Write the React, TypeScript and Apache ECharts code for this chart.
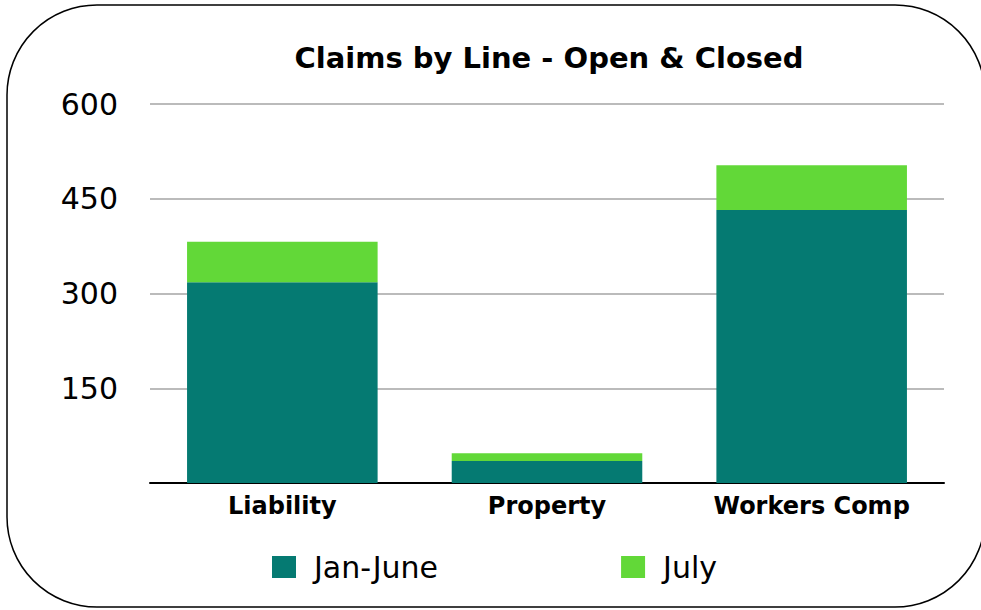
import React, { useEffect, useRef } from "react";
import * as echarts from "echarts";

const categories = ["Liability", "Property", "Workers Comp"];
const janJune = [318, 35, 432];
const july = [64, 12, 71];
const yTicks = [0, 150, 300, 450, 600];

export default function App() {
  const ref = useRef<HTMLDivElement>(null);
  useEffect(() => {
    document.body.style.margin = "0";
    const chart = echarts.init(ref.current!, null, { renderer: "svg" });
    chart.setOption({
      animation: false,
      backgroundColor: "#ffffff",
      title: {
        text: "Claims by Line - Open & Closed",
        left: 544,
        textAlign: "center",
        top: 38,
        textStyle: {
          fontFamily: "DejaVu Sans",
          fontWeight: "bold",
          fontSize: 29,
          color: "#000",
        },
      },
      graphic: [
        {
          type: "rect",
          shape: { x: 7, y: 5, width: 978, height: 602, r: 90 },
          style: { fill: "none", stroke: "#000", lineWidth: 1.5 },
          z: -1,
        },
      ],
      legend: {
        top: 552,
        left: 272,
        padding: 0,
        itemWidth: 24,
        itemHeight: 22,
        itemGap: 183,
        icon: "rect",
        textStyle: {
          fontFamily: "DejaVu Sans",
          fontSize: 30,
          color: "#000",
          padding: [0, 0, 0, 13],
          width: 136,
        },
        data: ["Jan-June", "July"],
      },
      grid: { left: 150, right: 37, top: 104, bottom: 127, containLabel: false },
      xAxis: {
        type: "category",
        data: categories,
        axisLine: { lineStyle: { color: "#000", width: 2 } },
        axisTick: { show: false },
        axisLabel: {
          fontFamily: "DejaVu Sans",
          fontWeight: "bold",
          fontSize: 24,
          color: "#000",
          margin: 11,
        },
      },
      yAxis: {
        type: "value",
        min: yTicks[0],
        max: yTicks[yTicks.length - 1],
        interval: 150,
        axisLine: { show: false },
        axisTick: { show: false },
        splitLine: { lineStyle: { color: "#bbbbbb", width: 2 } },
        axisLabel: {
          fontFamily: "DejaVu Sans",
          fontSize: 30,
          color: "#000",
          margin: 32,
          formatter: (v: number) => (v === 0 ? "" : String(v)),
        },
      },
      series: [
        {
          name: "Jan-June",
          type: "bar",
          stack: "total",
          data: janJune,
          barWidth: "72%",
          itemStyle: { color: "#057A72" },
        },
        {
          name: "July",
          type: "bar",
          stack: "total",
          data: july,
          barWidth: "72%",
          itemStyle: { color: "#62D838" },
        },
      ],
    });
    return () => chart.dispose();
  }, []);
  return <div ref={ref} style={{ width: 981, height: 610 }} />;
}
